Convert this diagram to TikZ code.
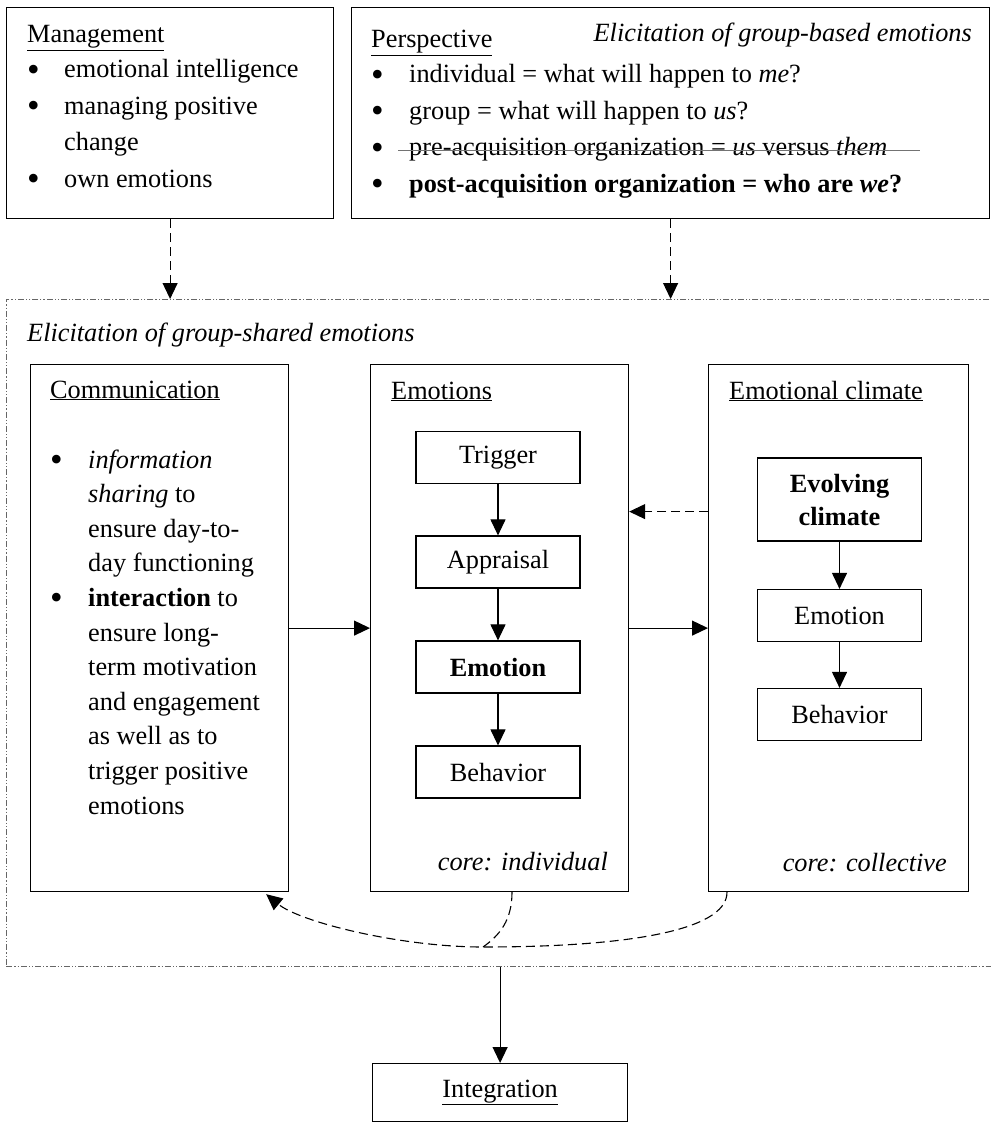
\documentclass[tikz,border=0pt]{standalone}
\usepackage{fontspec}
\setmainfont{Liberation Serif}
\usetikzlibrary{arrows.meta,calc}
% list bullet, drawn a little larger than the font's own
\newcommand\listdot{\raisebox{-3.2pt}{\fontsize{36}{36}\selectfont\textbullet}}
\begin{document}
\begin{tikzpicture}[x=1pt,y=-1pt,
  font=\fontsize{26.3}{36.5}\selectfont,
  box/.style={draw,line width=1.2pt,inner sep=0pt,anchor=north west},
  stepbox/.style={draw,line width=1.2pt,inner sep=0pt,minimum width=164pt,minimum height=52pt,align=center},
  txt/.style={anchor=base west,inner sep=0pt},
  link/.style={-{Triangle[length=16pt,width=15pt]},line width=1.1pt},
  dlink/.style={link,dash pattern=on 9pt off 5pt},
  dotframe/.style={draw=black!60,line width=0.9pt,
    dash pattern=on 6pt off 2pt on 1.2pt off 2pt on 1.2pt off 2pt},
]
\useasboundingbox (0,0) rectangle (990,1123);

% ---- top boxes ----
\node[box,minimum width=327pt,minimum height=211pt] (mgmt) at (6,7) {};
\node[box,minimum width=638pt,minimum height=211pt] (persp) at (351,7) {};

\node[txt] (mgmtT) at (27,43) {\underline{Management}};
\node[txt] (mgmtL) at (27,78) {\parbox[t]{300pt}{%
  \makebox[37pt][l]{\listdot}emotional intelligence\\
  \makebox[37pt][l]{\listdot}managing positive\\
  \hspace*{37pt}change\\
  \makebox[37pt][l]{\listdot}own emotions}};

\node[txt] (perspT) at (371,48) {\underline{Perspective}};
\node[txt,anchor=base east] (basedT) at (972,42) {\textit{Elicitation of group-based emotions}};
\node[txt] (perspL) at (371,83) {\parbox[t]{610pt}{%
  \makebox[38pt][l]{\listdot}individual = what will happen to \textit{me}?\\
  \makebox[38pt][l]{\listdot}group = what will happen to \textit{us}?\\
  \makebox[38pt][l]{\listdot}pre-acquisition organization = \textit{us} versus \textit{them}\\
  \makebox[38pt][l]{\listdot}\textbf{post-acquisition organization = who are \textit{we}?}}};
% strike-through of the pre-acquisition line
\draw[black!55,line width=1pt] (398,151) -- (920,151);

% ---- group-shared frame ----
\node[box,dotframe,minimum width=1000pt,minimum height=667pt] (shared) at (6,299) {};
\node[txt] (sharedT) at (27,341) {\textit{Elicitation of group-shared emotions}};

\draw[dlink] (mgmt.south) -- (mgmt.south |- shared.north);
\draw[dlink] (persp.south) -- (persp.south |- shared.north);

% ---- communication ----
\node[box,minimum width=258pt,minimum height=527pt] (comm) at (30,364) {};
\node[txt] (commT) at (50,398) {\underline{Communication}};
\node[txt] (commL) at (50,468) {\parbox[t]{240pt}{\fontsize{26.3}{34.6}\selectfont
  \makebox[38pt][l]{\listdot}\textit{information}\\
  \hspace*{38pt}\textit{sharing} to\\
  \hspace*{38pt}ensure day-to-\\
  \hspace*{38pt}day functioning\\
  \makebox[38pt][l]{\listdot}\textbf{interaction} to\\
  \hspace*{38pt}ensure long-\\
  \hspace*{38pt}term motivation\\
  \hspace*{38pt}and engagement\\
  \hspace*{38pt}as well as to\\
  \hspace*{38pt}trigger positive\\
  \hspace*{38pt}emotions}};

% ---- emotions ----
\node[box,minimum width=258pt,minimum height=527pt] (emo) at (370,364) {};
\node[txt] (emoT) at (391,399) {\underline{Emotions}};
\node[stepbox] (trig) at (498,457.5) {Trigger};
\node[stepbox] (appr) at (498,562) {Appraisal};
\node[stepbox] (emot) at (498,667) {\textbf{Emotion}};
\node[stepbox] (behv) at (498,772) {Behavior};
\node[txt,anchor=base east] (emoCore) at (608,870) {\textit{core: individual}};
\draw[link] (trig.south) -- (appr.north);
\draw[link] (appr.south) -- (emot.north);
\draw[link] (emot.south) -- (behv.north);

% ---- emotional climate ----
\node[box,minimum width=260pt,minimum height=527pt] (clim) at (708,364) {};
\node[txt] (climT) at (729,399) {\underline{Emotional climate}};
\node[stepbox,minimum height=83pt,font=\fontsize{26.3}{33}\selectfont\bfseries] (evol) at (839.5,499.5) {Evolving\\climate};
\node[stepbox] (cemo) at (839.5,615.5) {Emotion};
\node[stepbox] (cbeh) at (839.5,714.5) {Behavior};
\node[txt,anchor=base east] (climCore) at (947,871) {\textit{core: collective}};
\draw[link] (evol.south) -- (cemo.north);
\draw[link] (cemo.south) -- (cbeh.north);

% ---- links between the three panels ----
\draw[link] (comm.east) -- (emo.west);
\draw[link] (emo.east) -- (clim.west);
\draw[dlink] ($(clim.west)+(0,-116.5)$) -- ($(emo.east)+(0,-116.5)$);

% ---- feedback to communication ----
\coordinate (climFoot) at ($(clim.south west)+(19,0)$);
\coordinate (emoFoot) at ($(emo.south west)+(142,0)$);
\coordinate (merge) at (483,947);
\coordinate (commFoot) at ($(comm.south east)+(-23,2)$);
\draw[dlink] (climFoot) .. controls (727,932) and (620,947) .. (merge)
  .. controls (400,947) and (300,922) .. (commFoot);
\draw[line width=1.1pt,dash pattern=on 9pt off 5pt]
  (emoFoot) .. controls (512,920) and (500,935) .. (merge);

% ---- integration ----
\node[box,minimum width=255pt,minimum height=58pt] (integ) at (372,1063) {};
\node[inner sep=0pt] (integT) at (integ.center) {\underline{Integration}};
\draw[link] (integ.north |- shared.south) -- (integ.north);
\end{tikzpicture}
\end{document}
